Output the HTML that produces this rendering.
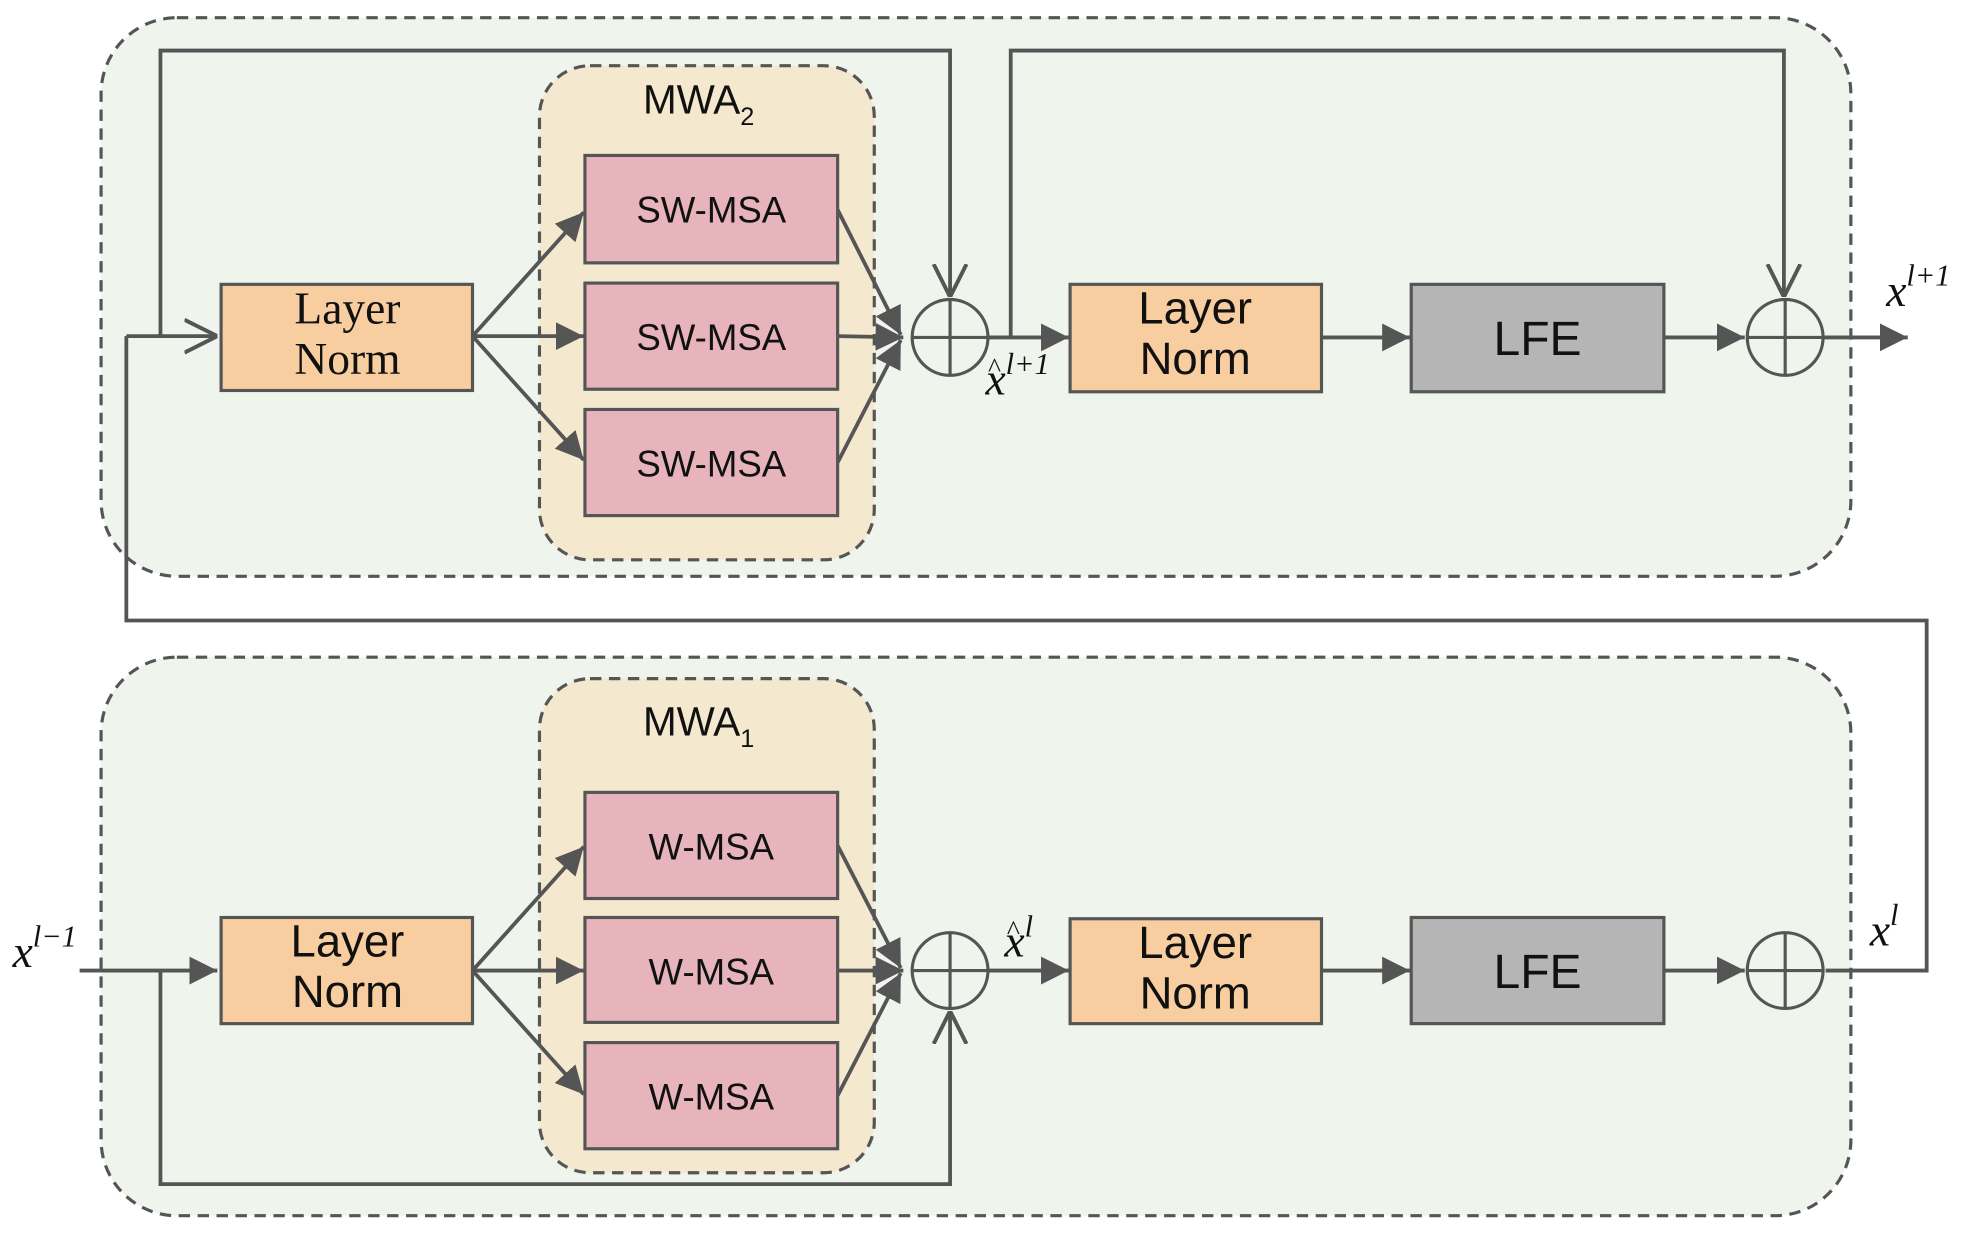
<!DOCTYPE html>
<html><head><meta charset="utf-8"><style>
html,body{margin:0;padding:0;background:#fff;}
svg{display:block;}
.sans{font-family:"Liberation Sans",sans-serif;}
.serif{font-family:"Liberation Serif",serif;}
</style></head><body>
<svg width="1981" height="1241" viewBox="0 0 1568 982" preserveAspectRatio="none" xmlns="http://www.w3.org/2000/svg">
<defs>
<marker id="a" viewBox="0 0 10 10" refX="9" refY="5" markerWidth="6" markerHeight="6" orient="auto" markerUnits="userSpaceOnUse"><path d="M0,0 L10,5 L0,10 z" fill="#555"/></marker>
<marker id="f" viewBox="0 0 10 10" refX="10" refY="5" markerWidth="22" markerHeight="22" orient="auto" markerUnits="userSpaceOnUse"><path d="M0,0 L10,5 L0,10 z" fill="#555"/></marker>
<marker id="o" viewBox="0 0 10 10" refX="10" refY="5" markerWidth="26" markerHeight="30" orient="auto" markerUnits="userSpaceOnUse"><path d="M0,0 L10,5 L0,10" fill="none" stroke="#555" stroke-width="1.2"/></marker>
</defs>
<g stroke="#555" stroke-width="2.5" fill="none">
<!-- blocks -->
<rect x="80" y="14" width="1385" height="442" rx="60" fill="#eff5ed" stroke-dasharray="9,6"/>
<rect x="80" y="520" width="1385" height="442" rx="60" fill="#eff5ed" stroke-dasharray="9,6"/>
<rect x="427" y="52" width="265" height="391" rx="40" fill="#f4e8ce" stroke-dasharray="9,6"/>
<rect x="427" y="537" width="265" height="391" rx="40" fill="#f4e8ce" stroke-dasharray="9,6"/>
</g>
<g stroke="#555" stroke-width="3" fill="none">
<!-- top lines -->
<polyline points="127,266 127,40 752,40 752,235" marker-end="url(#o)"/>
<polyline points="800,267 800,40 1412,40 1412,235" marker-end="url(#o)"/>
<line x1="100" y1="266" x2="172" y2="266" marker-end="url(#o)"/>
<polyline points="100,266 100,491 1525,491 1525,768 1445,768"/>
<line x1="374" y1="266" x2="462" y2="168" marker-end="url(#f)"/>
<line x1="374" y1="266" x2="462" y2="266" marker-end="url(#f)"/>
<line x1="374" y1="266" x2="462" y2="364" marker-end="url(#f)"/>
<line x1="663" y1="166" x2="713" y2="265" marker-end="url(#f)"/>
<line x1="663" y1="266" x2="715" y2="267" marker-end="url(#f)"/>
<line x1="663" y1="366" x2="713" y2="269" marker-end="url(#f)"/>
<line x1="782" y1="267" x2="846" y2="267" marker-end="url(#f)"/>
<line x1="1046" y1="267" x2="1116" y2="267" marker-end="url(#f)"/>
<line x1="1317" y1="267" x2="1381" y2="267" marker-end="url(#f)"/>
<line x1="1443" y1="267" x2="1510" y2="267" marker-end="url(#f)"/>
<!-- bottom lines -->
<line x1="63" y1="768" x2="172" y2="768" marker-end="url(#f)"/>
<polyline points="127,768 127,937 752,937 752,800" marker-end="url(#o)"/>
<line x1="374" y1="768" x2="462" y2="670" marker-end="url(#f)"/>
<line x1="374" y1="768" x2="462" y2="768" marker-end="url(#f)"/>
<line x1="374" y1="768" x2="462" y2="866" marker-end="url(#f)"/>
<line x1="663" y1="669" x2="713" y2="766" marker-end="url(#f)"/>
<line x1="663" y1="768" x2="715" y2="768" marker-end="url(#f)"/>
<line x1="663" y1="867" x2="713" y2="770" marker-end="url(#f)"/>
<line x1="782" y1="768" x2="846" y2="768" marker-end="url(#f)"/>
<line x1="1046" y1="768" x2="1116" y2="768" marker-end="url(#f)"/>
<line x1="1317" y1="768" x2="1381" y2="768" marker-end="url(#f)"/>
</g>
<g stroke="#555" stroke-width="2.5">
<rect x="463" y="123" width="200" height="85" fill="#e7b4bc"/>
<rect x="463" y="224" width="200" height="84" fill="#e7b4bc"/>
<rect x="463" y="324" width="200" height="84" fill="#e7b4bc"/>
<rect x="463" y="627" width="200" height="84" fill="#e7b4bc"/>
<rect x="463" y="726" width="200" height="83" fill="#e7b4bc"/>
<rect x="463" y="825" width="200" height="84" fill="#e7b4bc"/>
<rect x="175" y="225" width="199" height="84" fill="#f8cda0"/>
<rect x="847" y="225" width="199" height="85" fill="#f8cda0"/>
<rect x="1117" y="225" width="200" height="85" fill="#b5b5b5"/>
<rect x="175" y="726" width="199" height="84" fill="#f8cda0"/>
<rect x="847" y="727" width="199" height="83" fill="#f8cda0"/>
<rect x="1117" y="726" width="200" height="84" fill="#b5b5b5"/>
</g>
<g stroke="#555" stroke-width="2.5" fill="none">
<circle cx="752" cy="267" r="30"/><path d="M722,267H782M752,237V297"/>
<circle cx="1413" cy="267" r="30"/><path d="M1383,267H1443M1413,237V297"/>
<circle cx="752" cy="768" r="30"/><path d="M722,768H782M752,738V798"/>
<circle cx="1413" cy="768" r="30"/><path d="M1383,768H1443M1413,738V798"/>
</g>
<g class="sans" fill="#111" text-anchor="middle" font-size="29">
<text x="563" y="176">SW-MSA</text>
<text x="563" y="277">SW-MSA</text>
<text x="563" y="377">SW-MSA</text>
<text x="563" y="680">W-MSA</text>
<text x="563" y="779">W-MSA</text>
<text x="563" y="878">W-MSA</text>
<text x="553" y="90" font-size="32">MWA<tspan font-size="20" dy="9">2</tspan></text>
<text x="553" y="582" font-size="32">MWA<tspan font-size="20" dy="9">1</tspan></text>
<text x="946" y="256" font-size="36">Layer</text>
<text x="946" y="296" font-size="36">Norm</text>
<text x="275" y="757" font-size="36">Layer</text>
<text x="275" y="797" font-size="36">Norm</text>
<text x="946" y="758" font-size="36">Layer</text>
<text x="946" y="798" font-size="36">Norm</text>
<text x="1217" y="281" font-size="38">LFE</text>
<text x="1217" y="782" font-size="38">LFE</text>
</g>
<g class="serif" fill="#111" font-size="36">
<text x="275" y="256" text-anchor="middle">Layer</text>
<text x="275" y="296" text-anchor="middle">Norm</text>
<text x="10" y="765" font-style="italic">x<tspan font-size="24" dy="-16">l−1</tspan></text>
<text x="1480" y="748" font-style="italic">x<tspan font-size="24" dy="-16">l</tspan></text>
<text x="1493" y="242" font-style="italic">x<tspan font-size="24" dy="-16">l+1</tspan></text>
<text x="780" y="312" font-style="italic">x<tspan font-size="24" dy="-16">l+1</tspan></text>
<text x="782" y="298" font-size="22">^</text>
<text x="795" y="757" font-style="italic">x<tspan font-size="24" dy="-16">l</tspan></text>
<text x="797" y="743" font-size="22">^</text>
</g>
</svg>
</body></html>
